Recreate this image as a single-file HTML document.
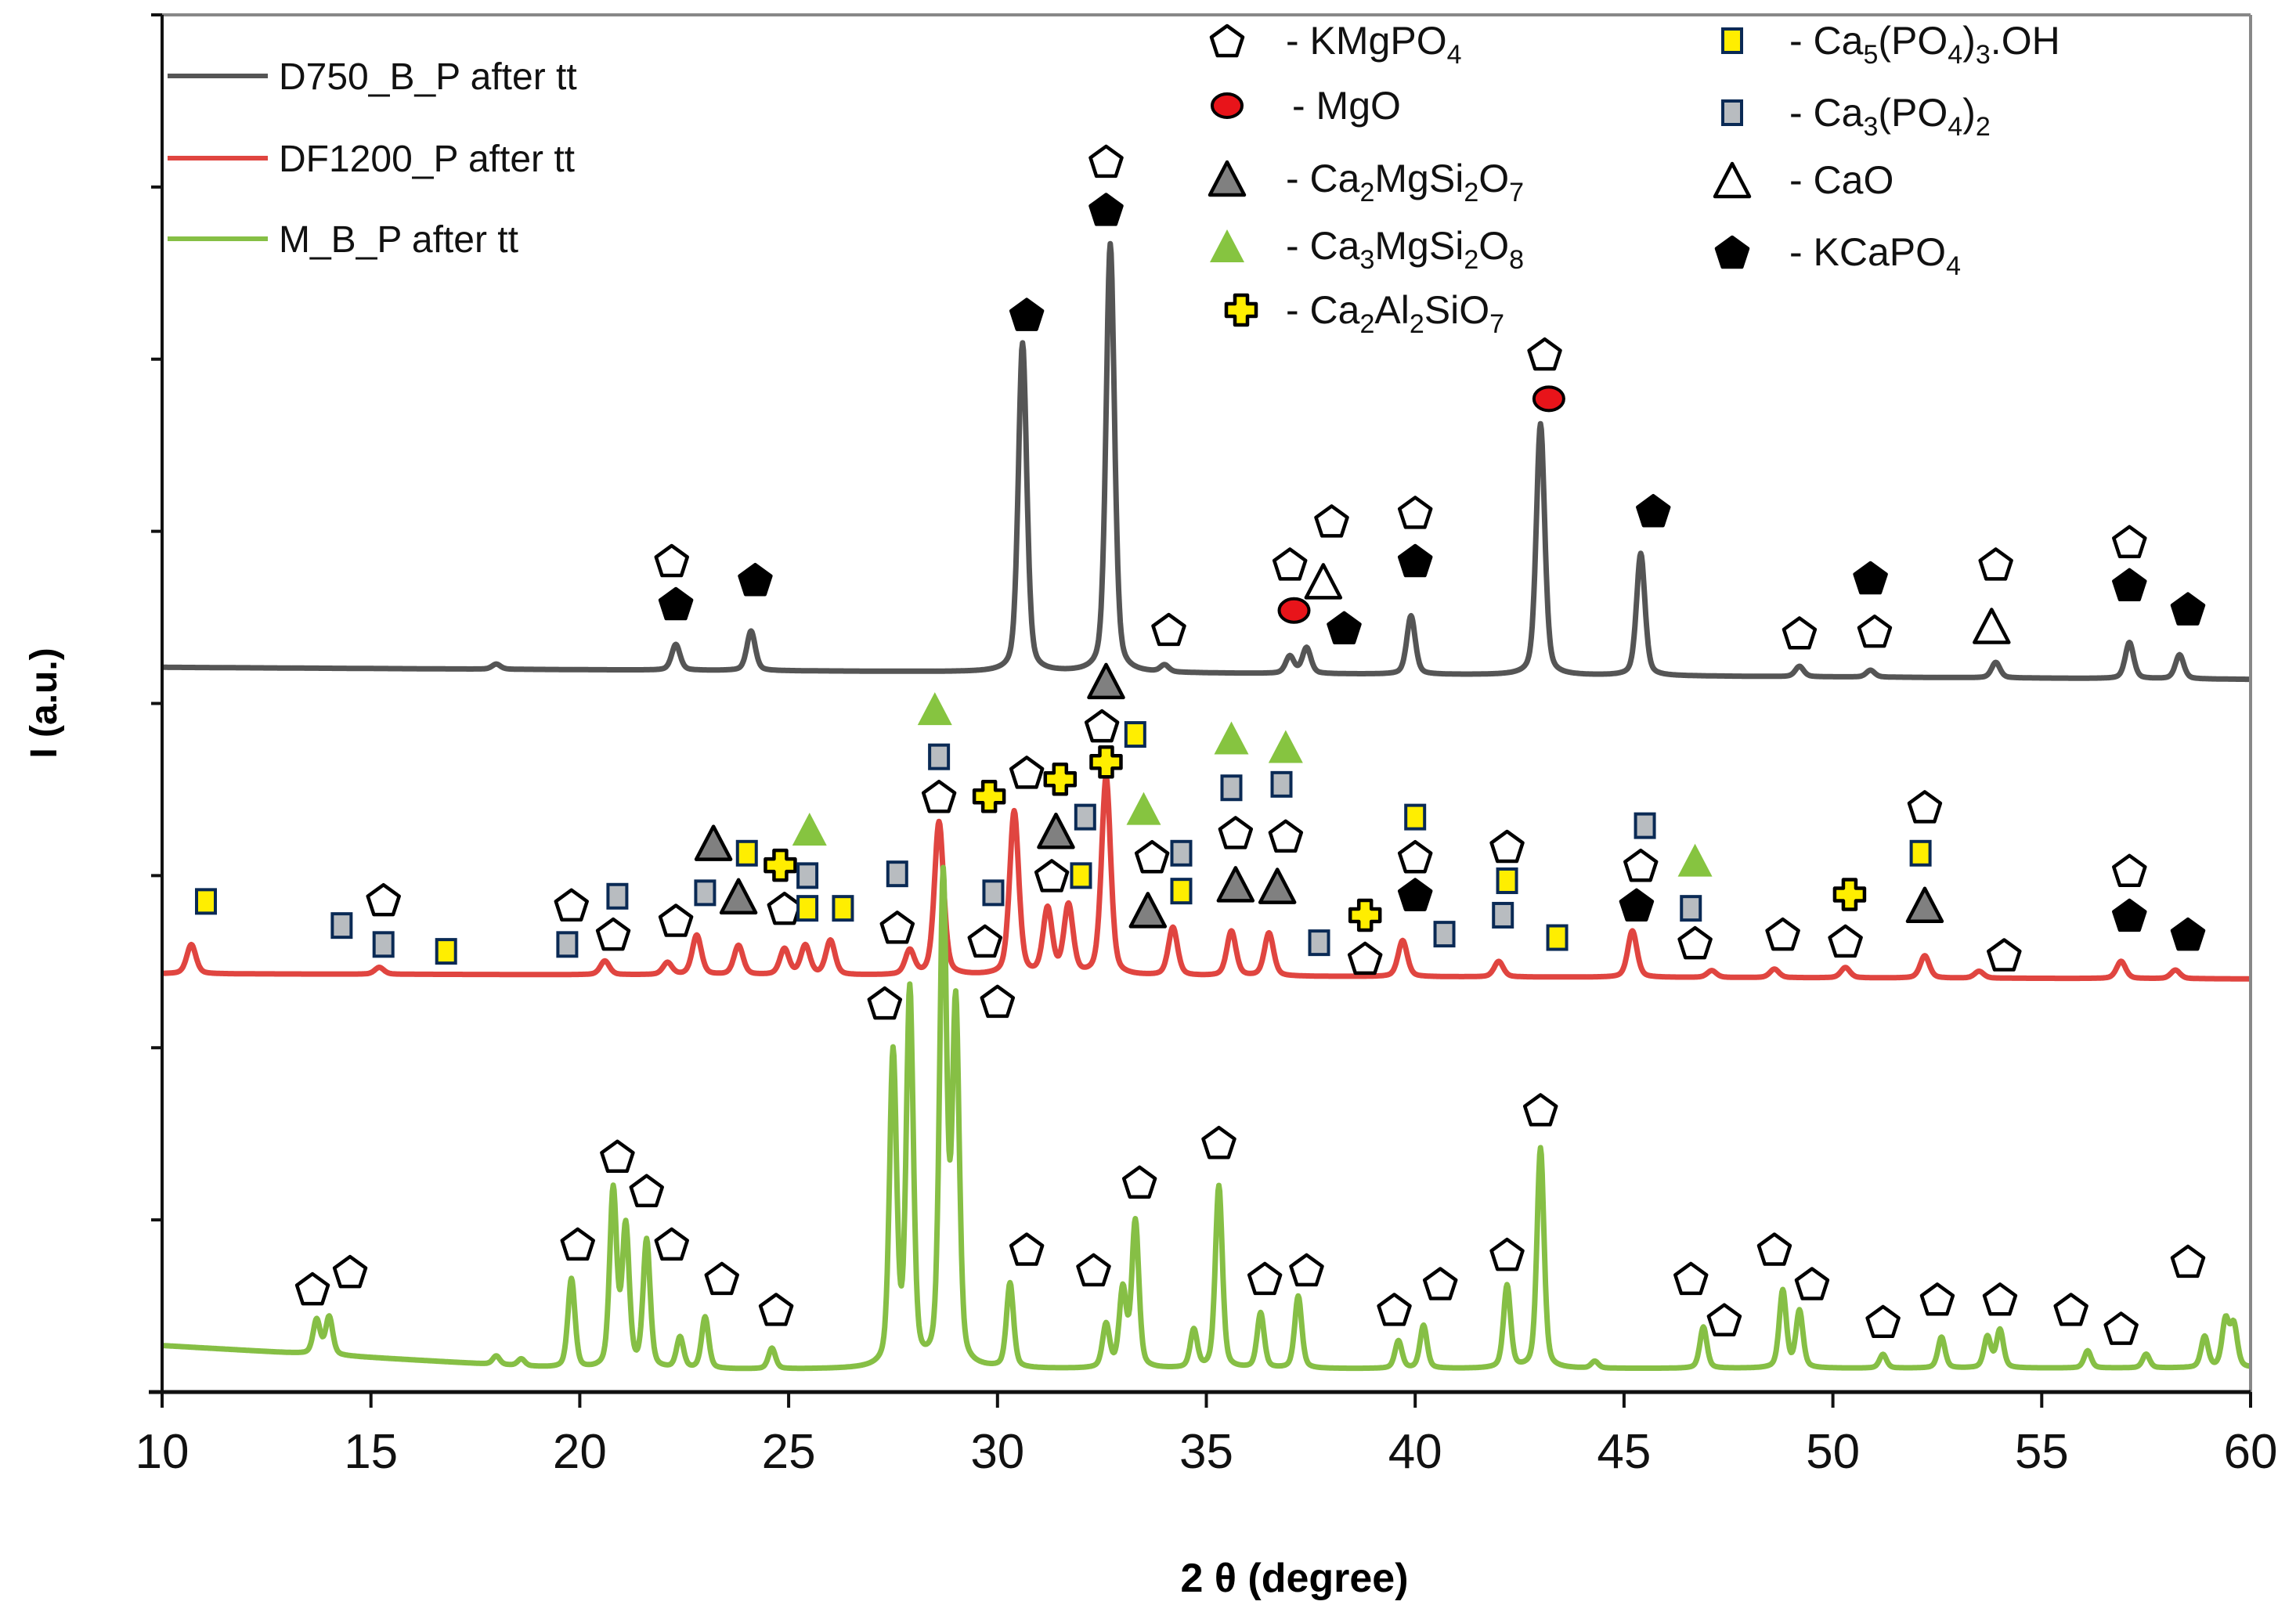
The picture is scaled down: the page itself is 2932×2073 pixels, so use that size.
<!DOCTYPE html>
<html><head><meta charset="utf-8"><style>
html,body{margin:0;padding:0;background:#fff;}
svg{display:block;font-family:"Liberation Sans",sans-serif;}
</style></head><body>
<svg id="chart" width="2932" height="2073" viewBox="0 0 2932 2073" xmlns="http://www.w3.org/2000/svg">
<rect x="0" y="0" width="2932" height="2073" fill="#fff"/>
<g id="series"></g>
<g id="marks"></g>
<g id="axes"></g>
<g id="legend" font-size="48" fill="#111">
 <line x1="214" y1="97" x2="342" y2="97" stroke="#555" stroke-width="6"/>
 <text x="356" y="114">D750_B_P after tt</text>
 <line x1="214" y1="202" x2="342" y2="202" stroke="#e04540" stroke-width="6"/>
 <text x="356" y="219">DF1200_P after tt</text>
 <line x1="214" y1="305" x2="342" y2="305" stroke="#86bf45" stroke-width="6"/>
 <text x="356" y="322">M_B_P after tt</text>
</g>
<g id="phaseLegend" font-size="50" fill="#111"></g>
<text x="1653" y="2033" text-anchor="middle" font-size="52" font-weight="bold">2 θ (degree)</text>
<text transform="translate(72,898) rotate(-90)" text-anchor="middle" font-size="48" font-weight="bold">I (a.u.)</text>
</svg>
<script>
// ---- data ----
const xTicks = [10,15,20,25,30,35,40,45,50,55,60];
const yTickCount = 8;
// D750_B_P (gray)
const grayBase = [421, 414];
const grayPos = [18.0,22.3,24.1,30.6,32.7,34.0,37.0,37.4,39.9,43.0,45.4,49.2,50.9,53.9,57.1,58.3];
const grayHt  = [3,15,23,191,249,4,10,15,34,146,71,6,4,9,21,14];
// DF1200_P (red)
const redBase = [243, 240];
const redPos = [10.7,15.2,20.6,22.1,22.8,23.8,24.9,25.4,26.0,27.9,28.6,30.4,31.2,31.7,32.6,34.2,35.6,36.5,39.7,42.0,45.2,47.1,48.6,50.3,52.2,53.5,56.9,58.2];
const redHt  = [17,4,8,7,23,17,15,17,20,14,89,95,38,40,115,28,26,25,21,9,27,4,5,6,13,4,10,5];
// M_B_P (green)
const greenBase = [27, 13, 14];
const greenPos = [13.7,14.0,18.0,18.6,19.8,20.8,21.1,21.6,22.4,23.0,24.6,27.5,27.9,28.7,29.0,30.3,32.6,33.0,33.3,34.7,35.3,36.3,37.2,39.6,40.2,42.2,43.0,44.3,46.9,48.8,49.2,51.2,52.6,53.7,54.0,56.1,57.5,58.9,59.4,59.6];
const greenHt  = [20,22,5,4,52,103,81,74,18,30,12,181,217,281,207,49,25,45,85,22,106,32,42,16,25,48,128,4,24,45,33,8,18,18,22,10,8,18,27,24];
// markers per group: type, 2theta, intensity
const grayTypes = ['po','pb','pb','pb','po','pb','po','po','rc','to','po','pb','po','pb','po','rc','pb','po','po','pb','po','to','po','pb','pb'];
const grayMkX = [22.2,22.3,24.2,30.7,32.6,32.6,34.1,37.0,37.1,37.8,38.0,38.3,40.0,40.0,43.1,43.2,45.7,49.2,51.0,50.9,53.9,53.8,57.1,57.1,58.5];
const grayMkY = [483,458,472,626,715,687,443,481,454,471,506,444,511,483,603,577,512,441,442,473,481,445,494,469,455];
const redTypes = ['ys','bs','bs','po','ys','po','bs','po','bs','po','bs','lt','lt','ys','yc','po','bs','ys','gt','ys','bs','po','gt','bs','po','yc','po','bs','po','po','lt','yc','ys','bs','po','yc','ys','lt','gt','po','lt','bs','ys','gt','bs','po','lt','gt','bs','po','lt','bs','yc','po','ys','po','pb','bs','po','ys','bs','ys','bs','po','pb','gt','bs','po','po','yc','po','po','ys','lt','po','po','pb','pb'];
const redMkX = [11.05,14.3,15.3,15.3,16.8,19.8,19.7,20.8,20.9,22.3,23.0,23.2,23.8,24.0,24.8,24.9,25.45,25.45,25.5,26.3,27.6,27.6,28.5,28.6,28.6,29.8,29.7,29.9,30.7,31.3,31.4,31.5,32.0,32.1,32.5,32.6,33.3,32.6,33.5,33.7,33.6,34.4,34.4,35.6,35.6,35.7,35.7,36.9,36.8,36.9,36.7,37.7,38.8,38.8,40.0,40.0,40.0,40.7,42.2,42.2,42.1,43.4,45.5,45.4,45.3,46.7,46.6,46.7,48.8,50.4,50.3,52.2,52.1,52.2,54.1,57.1,57.1,58.5];
const redMkY = [285,271,260,286,256,283,260,266,288,274,290,319,288,313,306,281,300,281,327,281,301,270,397,369,346,346,262,290,360,300,326,356,300,334,387,366,382,413,339,311,280,313,291,380,351,325,295,375,353,323,294,261,277,252,334,311,289,266,317,297,277,264,329,306,283,309,281,261,266,289,262,340,313,283,254,303,277,266];
const greenMkX = [13.6,14.5,19.95,20.9,21.6,22.2,23.4,24.7,27.3,30.0,30.7,32.3,33.4,35.3,36.4,37.4,39.5,40.6,42.2,43.0,46.6,47.4,48.6,49.5,51.2,52.5,54.0,55.7,56.9,58.5];
const greenMkY = [60,70,86,137,117,86,66,48,226,227,83,71,122,145,66,71,48,63,80,164,66,42,83,63,41,54,54,48,37,76];
</script>
<script>
const NS='http://www.w3.org/2000/svg';
const X0=207,X1=2874,Y0=1778,Y1=19;
const sx=v=>X0+(v-10)/50*(X1-X0);
const sy=v=>Y0-v/800*(Y0-Y1);
function mk(tag,attrs,parent){const e=document.createElementNS(NS,tag);for(const k in attrs)e.setAttribute(k,attrs[k]);parent.appendChild(e);return e;}
function prof(x,pos,ht,w){let s=0;for(let i=0;i<pos.length;i++){const d=(x-pos[i])/w;s+=ht[i]*(0.6*Math.exp(-4*Math.LN2*d*d)+0.4/(1+4*d*d));}return s;}
function baseAt(x,b){if(b.length===2)return b[0]+(b[1]-b[0])*(x-10)/50;if(x<20)return b[0]+(b[1]-b[0])*(x-10)/10;return b[1]+(b[2]-b[1])*(x-20)/40;}
const series=document.getElementById('series');
function drawSeries(base,pos,ht,w,color,name){
 let d='';for(let x=10;x<=60.0001;x+=0.02){const y=baseAt(x,base)+prof(x,pos,ht,w);d+=(d?'L':'M')+sx(x).toFixed(1)+','+sy(y).toFixed(1);}
 const p=mk('path',{d:d,fill:'none',stroke:color,'stroke-width':7,'stroke-linejoin':'round'},series);
 
 
}
drawSeries(grayBase,grayPos,grayHt,0.24,'#555555','series-d750');
drawSeries(redBase,redPos,redHt,0.26,'#e04540','series-df1200');
drawSeries(greenBase,greenPos,greenHt,0.2,'#86bf45','series-mbp');
// axes
const axes=document.getElementById('axes');
mk('line',{x1:X0,y1:Y1,x2:X1,y2:Y1,stroke:'#888','stroke-width':4},axes);
mk('line',{x1:X1,y1:Y1,x2:X1,y2:Y0,stroke:'#888','stroke-width':4},axes);
mk('line',{x1:X0,y1:Y1,x2:X0,y2:Y0,stroke:'#111','stroke-width':4},axes);
mk('line',{x1:190,y1:Y0,x2:X1,y2:Y0,stroke:'#111','stroke-width':5},axes);
xTicks.forEach(t=>{
 const l=mk('line',{x1:sx(t),y1:Y0,x2:sx(t),y2:Y0+20,stroke:'#111','stroke-width':4},axes);
 
 
 const tx=mk('text',{x:sx(t),y:1875,'text-anchor':'middle','font-size':62,fill:'#111'},axes);
 tx.textContent=t;
 
 
});
for(let i=0;i<=yTickCount;i++){
 const y=Y0-i*(Y0-Y1)/yTickCount;
 const l=mk('line',{x1:X0-14,y1:y,x2:X0,y2:y,stroke:'#111','stroke-width':4},axes);
 
 
}
// marker shapes
function shape(t,cx,cy,g){
 if(t==='po'||t==='pb'){let pts=[];for(let k=0;k<5;k++){const a=-Math.PI/2+k*2*Math.PI/5;pts.push((cx+21*Math.cos(a)).toFixed(1)+','+(cy+21*Math.sin(a)+2).toFixed(1));}
  return mk('polygon',{points:pts.join(' '),fill:t==='pb'?'#000':'#fff',stroke:'#000','stroke-width':4.5,'stroke-linejoin':'round'},g);}
 if(t==='rc')return mk('ellipse',{cx:cx,cy:cy,rx:19,ry:15,fill:'#e8141a',stroke:'#000','stroke-width':4},g);
 if(t==='lt'||t==='gt'||t==='to'){const h=21;const pts=`${cx},${cy-h} ${cx+22},${cy+h} ${cx-22},${cy+h}`;
  if(t==='gt')return mk('polygon',{points:pts,fill:'#86c440'},g);
  return mk('polygon',{points:pts,fill:t==='lt'?'#808080':'#fff',stroke:'#000','stroke-width':4.5,'stroke-linejoin':'round'},g);}
 if(t==='yc'){const a=8,b=19;const pts=`${cx-a},${cy-b} ${cx+a},${cy-b} ${cx+a},${cy-a} ${cx+b},${cy-a} ${cx+b},${cy+a} ${cx+a},${cy+a} ${cx+a},${cy+b} ${cx-a},${cy+b} ${cx-a},${cy+a} ${cx-b},${cy+a} ${cx-b},${cy-a} ${cx-a},${cy-a}`;
  return mk('polygon',{points:pts,fill:'#ffee00',stroke:'#000','stroke-width':4.5,'stroke-linejoin':'round'},g);}
 if(t==='ys'||t==='bs')return mk('rect',{x:cx-12,y:cy-15,width:24,height:30,fill:t==='ys'?'#ffee00':'#b8bcc0',stroke:'#0a2a55','stroke-width':4},g);
}
const marks=document.getElementById('marks');
function drawMarks(types,xs,ys){
 for(let i=0;i<xs.length;i++){
  const s=shape(types?types[i]:'po',sx(xs[i]),sy(ys[i]),marks);
  
  
 }
}
drawMarks(grayTypes,grayMkX,grayMkY);
drawMarks(redTypes,redMkX,redMkY);
drawMarks(null,greenMkX,greenMkY);
// phase legend
const pl=document.getElementById('phaseLegend');
const leg=[['po',1567,52,1642,'- KMgPO',[['4','sub']]],['rc',1567,135,1650,' - MgO',[]],['lt',1567,228,1642,'- Ca',[['2','sub'],['MgSi',''],['2','sub'],['O',''],['7','sub']]],
 ['gt',1567,314,1642,'- Ca',[['3','sub'],['MgSi',''],['2','sub'],['O',''],['8','sub']]],['yc',1585,396,1642,'- Ca',[['2','sub'],['Al',''],['2','sub'],['SiO',''],['7','sub']]],
 ['ys',2212,52,2285,'- Ca',[['5','sub'],['(PO',''],['4','sub'],[')',''],['3','sub'],['.OH','']]],['bs',2212,144,2285,'- Ca',[['3','sub'],['(PO',''],['4','sub'],[')',''],['2','sub']]],
 ['to',2212,230,2285,'- CaO',[]],['pb',2212,322,2285,'- KCaPO',[['4','sub']]]];
leg.forEach(r=>{
 const s=shape(r[0],r[1],r[2],pl);
 
 
 const t=mk('text',{x:r[3],y:r[2]+17},pl);
 
 
 const a=mk('tspan',{},t);a.textContent=r[4];
 r[5].forEach(p=>{const ts=mk('tspan',p[1]==='sub'?{'font-size':34,dy:12}:{dy:-12},t);ts.textContent=p[0];});
});
</script>
</body></html>
